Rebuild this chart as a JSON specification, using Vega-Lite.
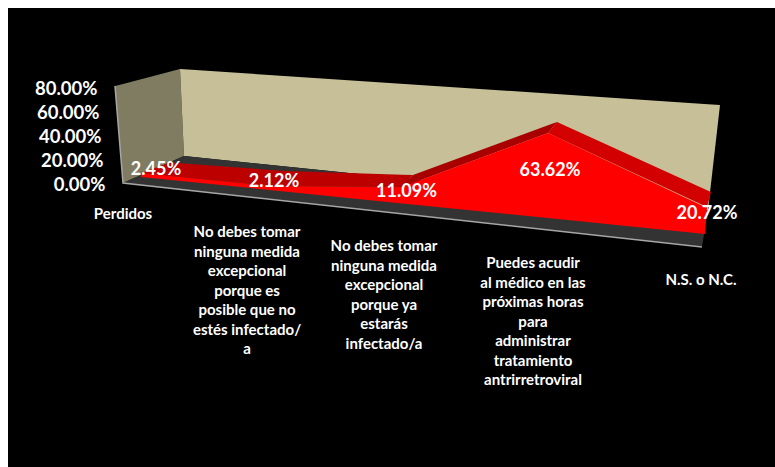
{"$schema":"https://vega.github.io/schema/vega-lite/v6.json","width":767,"height":459,"autosize":"none","padding":{"left":8,"top":8,"right":0,"bottom":0},"background":"#ffffff","view":{"fill":"#000000","stroke":null},
"datasets":{
"surfaces":[
{"part":"pared lateral","along":-0.0828,"level":0.8167,"level2":0.8167},{"part":"pared lateral","along":-0.0276,"level":0.8342,"level2":0.0083},{"part":"pared lateral","along":0.3655,"level":0.9583,"level2":0.2183},{"part":"pared lateral","along":0.3931,"level":0.2333,"level2":0.2333},
{"part":"pared fondo","along":0.3655,"level":0.9583,"level2":0.9583},{"part":"pared fondo","along":0.3931,"level":0.9561,"level2":0.2333},{"part":"pared fondo","along":4.0069,"level":0.665,"level2":-0.2167},{"part":"pared fondo","along":4.0897,"level":0.6583,"level2":0.6583},
{"part":"suelo","along":-0.0276,"level":0.0083,"level2":0.0083},{"part":"suelo","along":0.3931,"level":0.2333,"level2":-0.0475},{"part":"suelo","along":3.9655,"level":-0.2117,"level2":-0.525},{"part":"suelo","along":4.0069,"level":-0.2167,"level2":-0.2167},
{"part":"techo izquierda","along":0.0966,"level":0.0917,"level2":0.0917},{"part":"techo izquierda","along":0.2966,"level":0.1792,"level2":0.0675},{"part":"techo izquierda","along":1.0,"level":0.1167,"level2":-0.0167},{"part":"techo izquierda","along":1.0966,"level":0.1083,"level2":-0.0175},{"part":"techo izquierda","along":1.8966,"level":0.0775,"level2":-0.025},{"part":"techo izquierda","along":1.9724,"level":0.075,"level2":0.075},
{"part":"techo subida","along":1.8966,"level":-0.025,"level2":-0.025},{"part":"techo subida","along":1.9724,"level":0.075,"level2":0.0092},{"part":"techo subida","along":2.9034,"level":0.4892,"level2":0.425},{"part":"techo subida","along":2.9655,"level":0.5167,"level2":0.5167},
{"part":"techo bajada","along":2.9034,"level":0.425,"level2":0.425},{"part":"techo bajada","along":2.9655,"level":0.5167,"level2":0.39},{"part":"techo bajada","along":4.0,"level":-0.0517,"level2":-0.1917},{"part":"techo bajada","along":4.0276,"level":-0.0667,"level2":-0.0667},
{"part":"frente","along":0.0966,"level":0.0917,"level2":0.0583},{"part":"frente","along":1.0,"level":-0.0167,"level2":-0.0517},{"part":"frente","along":1.8966,"level":-0.025,"level2":-0.1617},{"part":"frente","along":2.9034,"level":0.425,"level2":-0.2842},{"part":"frente","along":3.9862,"level":-0.1908,"level2":-0.4167},{"part":"frente","along":4.0,"level":-0.1917,"level2":-0.1917}
],
"edge":[{"step":0,"along":-0.0828,"level":0.8167},{"step":1,"along":-0.0276,"level":0.0083},{"step":2,"along":3.9655,"level":-0.525}],
"shares":[
{"category":"Perdidos","share":0.0245,"along":0.2,"level":0.1167},
{"category":"No debes tomar ninguna medida excepcional porque es posible que no estés infectado/a","share":0.0212,"along":1.0138,"level":0.0167},
{"category":"No debes tomar ninguna medida excepcional porque ya estarás infectado/a","share":0.1109,"along":1.9276,"level":-0.0667},
{"category":"Puedes acudir al médico en las próximas horas para administrar tratamiento antrirretroviral","share":0.6362,"along":2.9172,"level":0.1083},
{"category":"N.S. o N.C.","share":0.2072,"along":4.0,"level":-0.25}
],
"categories":[
{"label":"Perdidos","along":-0.0276,"level":-0.1917},
{"label":"No debes tomar\nninguna medida\nexcepcional\nporque es\nposible que no\nestés infectado/\na","along":0.8276,"level":-0.3417},
{"label":"No debes tomar\nninguna medida\nexcepcional\nporque ya\nestarás\ninfectado/a","along":1.7724,"level":-0.4583},
{"label":"Puedes acudir\nal médico en las\npróximas horas\npara\nadministrar\ntratamiento\nantrirretroviral","along":2.8,"level":-0.6},
{"label":"N.S. o N.C.","along":3.9586,"level":-0.7417}
]},
"layer":[
{"data":{"name":"surfaces"},"mark":{"type":"area","orient":"vertical","interpolate":"linear"},
"encoding":{
"x":{"field":"along","type":"quantitative","scale":{"domain":[-0.8207,4.469],"nice":false,"zero":false},"axis":null},
"y":{"field":"level","type":"quantitative","scale":{"domain":[-2.3583,1.4667],"nice":false,"zero":false},"axis":{"orient":"left","offset":-97,"values":[0,0.2,0.4,0.6,0.8],"format":".2%","title":null,"domain":false,"ticks":false,"grid":false,"labelPadding":0,"labelColor":"#ffffff","labelFont":"Lato","labelFontWeight":"bold","labelFontSize":18.5,"encoding":{"labels":{"dx":{"value":{"signal":"-10*datum.value"}}}}}},
"y2":{"field":"level2"},
"color":{"field":"part","type":"nominal","legend":null,"scale":{"domain":["pared lateral","pared fondo","suelo","techo izquierda","techo subida","techo bajada","frente"],"range":["#807C62","#C6BF98","#333333","#BC0000","#A80000","#D20000","#FF0000"]}}}},
{"data":{"name":"edge"},"mark":{"type":"line","color":"#A6A6A6","strokeWidth":1.5},
"encoding":{"x":{"field":"along","type":"quantitative","sort":null},"y":{"field":"level","type":"quantitative"},"order":{"field":"step","type":"ordinal"}}},
{"data":{"name":"shares"},"mark":{"type":"text","font":"Lato","fontWeight":"bold","fontSize":18,"color":"#ffffff","align":"center","baseline":"middle"},
"encoding":{"x":{"field":"along","type":"quantitative"},"y":{"field":"level","type":"quantitative"},"text":{"field":"share","type":"quantitative","format":".2%"}}},
{"data":{"name":"categories"},"mark":{"type":"text","font":"Lato","fontWeight":"bold","fontSize":15,"color":"#ffffff","align":"center","baseline":"top","lineBreak":"\n","lineHeight":19.5},
"encoding":{"x":{"field":"along","type":"quantitative"},"y":{"field":"level","type":"quantitative"},"text":{"field":"label","type":"nominal"}}}
]}
